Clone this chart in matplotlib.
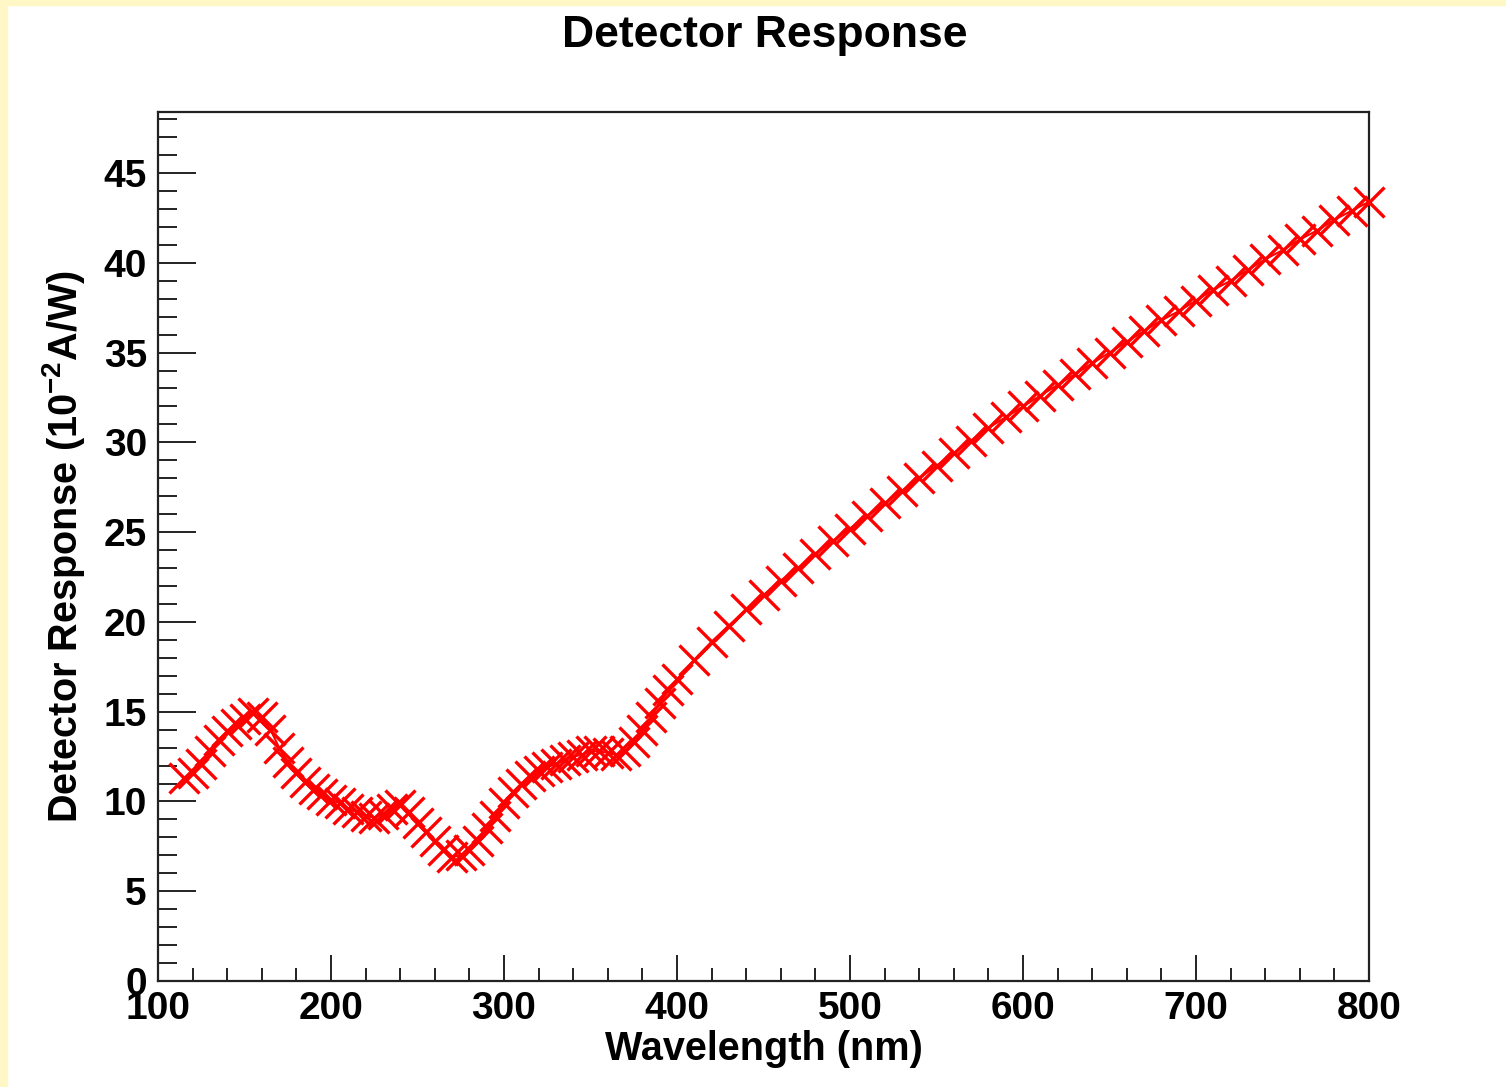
import matplotlib
matplotlib.use("Agg")
import matplotlib.pyplot as plt
from matplotlib.patches import Rectangle
from matplotlib.ticker import MultipleLocator

plt.rcParams["font.family"] = ["Liberation Sans", "DejaVu Sans"]
plt.rcParams["font.weight"] = "bold"
plt.rcParams["mathtext.fontset"] = "custom"
plt.rcParams["mathtext.rm"] = "Liberation Sans:bold"
plt.rcParams["mathtext.bf"] = "Liberation Sans:bold"
plt.rcParams["mathtext.default"] = "bf"

# wavelength (nm), 5 nm steps in the UV part, 10 nm steps above 400 nm
wavelength = [
    115, 120, 125, 130, 135, 140, 145, 150, 155, 160, 165, 170, 175, 180,
    185, 190, 195, 200, 205, 210, 215, 220, 225, 230, 235, 240, 245, 250,
    255, 260, 265, 270, 275, 280, 285, 290, 295, 300, 305, 310, 315, 320,
    325, 330, 335, 340, 345, 350, 355, 360, 365, 370, 375, 380, 385, 390,
    395, 400, 410, 420, 430, 440, 450, 460, 470, 480, 490, 500, 510, 520,
    530, 540, 550, 560, 570, 580, 590, 600, 610, 620, 630, 640, 650, 660,
    670, 680, 690, 700, 710, 720, 730, 740, 750, 760, 770, 780, 790, 800,
]
# detector response (10^-2 A/W)
response = [
    11.3, 11.6, 12.1, 12.8, 13.4, 13.9, 14.3, 14.6, 14.9, 14.7, 14.0, 13.0, 12.2, 11.6,
    11.1, 10.7, 10.4, 10.1, 9.9, 9.6, 9.4, 9.2, 9.1, 9.3, 9.6, 9.8, 9.4, 8.8,
    8.3, 7.8, 7.3, 6.9, 7.0, 7.3, 7.8, 8.5, 9.2, 9.9, 10.5, 11.0, 11.4, 11.7,
    11.9, 12.1, 12.3, 12.5, 12.6, 12.8, 12.8, 12.7, 12.6, 12.8, 13.3, 14.0, 14.7, 15.5,
    16.2, 16.8, 17.9, 18.9, 19.8, 20.7, 21.5, 22.3, 23.0, 23.8, 24.5, 25.2, 25.9, 26.6,
    27.3, 28.0, 28.7, 29.4, 30.1, 30.8, 31.4, 32.0, 32.6, 33.2, 33.8, 34.4, 35.0, 35.6,
    36.2, 36.8, 37.3, 37.9, 38.5, 39.0, 39.6, 40.2, 40.7, 41.3, 41.8, 42.4, 42.9, 43.4,
]

W, H = 1506, 1087
fig = plt.figure(figsize=(W / 100, H / 100), dpi=100, facecolor="white")

# pale yellow canvas edge (left and top)
frame = "#fff8c6"
fig.patches.append(Rectangle((0, 0), 7 / W, 1, transform=fig.transFigure, color=frame, zorder=0))
fig.patches.append(Rectangle((0, 1 - 5 / H), 1, 5 / H, transform=fig.transFigure, color=frame, zorder=0))

ax = fig.add_axes([158 / W, 1 - 981 / H, (1369 - 158) / W, (981 - 112) / H])

ax.plot(wavelength, response, color="red", lw=1.5, marker="x", markersize=22,
        markeredgewidth=2.4, clip_on=False, zorder=3)

ax.set_xlim(100, 800)
ax.set_ylim(0, 48.4)

ax.xaxis.set_major_locator(MultipleLocator(100))
ax.xaxis.set_minor_locator(MultipleLocator(20))
ax.yaxis.set_major_locator(MultipleLocator(5))
ax.yaxis.set_minor_locator(MultipleLocator(1))

ax.tick_params(axis="both", which="both", direction="in", width=1.4, color="#222222",
               top=False, right=False, labelsize=28)
ax.tick_params(axis="x", which="major", length=19, pad=7)
ax.tick_params(axis="x", which="minor", length=9.5)
ax.tick_params(axis="y", which="major", length=27, pad=8)
ax.tick_params(axis="y", which="minor", length=13.5)
for lab in ax.get_xticklabels() + ax.get_yticklabels():
    lab.set_fontweight("bold")

for s in ax.spines.values():
    s.set_linewidth(1.6)
    s.set_color("#222222")

ax.set_xlabel("Wavelength (nm)", fontsize=28.5, fontweight="bold", labelpad=2)
ax.set_ylabel(r"Detector Response (10$^{-2}$A/W)", fontsize=28.5, fontweight="bold", labelpad=12)
fig.text(765 / W, 1 - 35 / H, "Detector Response", ha="center", va="center",
         fontsize=32, fontweight="bold")

fig.savefig("out.png", dpi=100, facecolor="white")
